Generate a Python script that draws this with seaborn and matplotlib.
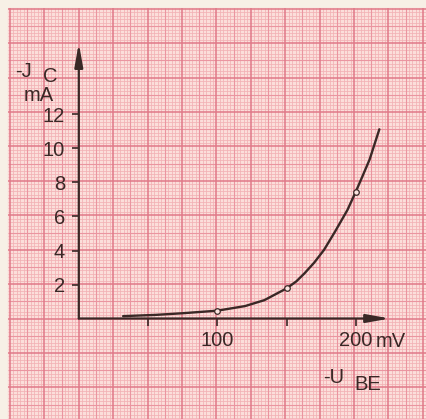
import matplotlib
matplotlib.use("Agg")
import matplotlib.pyplot as plt
from matplotlib.collections import LineCollection
import numpy as np
import pandas as pd
import seaborn as sns

# Transfer characteristic: -I_C versus -U_BE
ube_mv = [32, 55, 75, 100, 120, 134, 150, 157, 163, 170, 177, 185, 194, 200, 205, 210, 217]
ic_ma = [0.14, 0.21, 0.31, 0.46, 0.73, 1.08, 1.77, 2.18, 2.66, 3.29, 4.03, 5.11, 6.39, 7.46, 8.40, 9.36, 11.13]

# measured points marked with small circles
meas_ube = [100, 150, 200]
meas_ic = [0.46, 1.77, 7.46]

xticks = [50, 100, 150, 200]
xticklabels = ["", "100", "", "200"]
yticks = [2, 4, 6, 8, 10, 12]
yticklabels = ["2", "4", "6", "8", "10", "12"]

sns.set_theme(style="white")
plt.rcParams["font.family"] = ["Liberation Sans", "DejaVu Sans"]

INK = "#3a2826"
FS = 14.5
W, H = 427, 419
fig = plt.figure(figsize=(W / 100, H / 100), dpi=100)
fig.patch.set_facecolor("#f7f0e6")

# graph paper drawn in pixel space
bg = fig.add_axes([0, 0, 1, 1])
bg.set_xlim(0, W)
bg.set_ylim(H, 0)
bg.axis("off")
px0, py0 = 8, 8
bg.add_patch(plt.Rectangle((px0, py0), W - px0, H - py0, color="#fbdeda", zorder=0))

ox, oy = 78.8, 318.5   # origin of the chart in pixels
step = 34.4 / 10
def grid_positions(origin, lo, hi):
    k0 = int(np.ceil((lo - origin) / step))
    k1 = int(np.floor((hi - origin) / step))
    return [(k, origin + k * step) for k in range(k0, k1 + 1)]

minor, medium, bold = [], [], []
for k, x in grid_positions(ox, px0, W):
    seg = [(x, py0), (x, H)]
    (bold if k % 10 == 0 else medium if k % 5 == 0 else minor).append(seg)
for k, y in grid_positions(oy, py0, H):
    seg = [(px0, y), (W, y)]
    (bold if k % 10 == 0 else medium if k % 5 == 0 else minor).append(seg)
bg.add_collection(LineCollection(minor, colors="#f2b1b5", linewidths=0.55, zorder=1))
bg.add_collection(LineCollection(medium, colors="#ea95a0", linewidths=0.8, zorder=2))
bg.add_collection(LineCollection(bold, colors="#e07988", linewidths=1.1, zorder=3))

# chart axes: 1 mV = 1.385 px, 1 mA = 17.0 px
PX_MV, PX_MA = 1.385, 17.0
right_px, top_px = 395, 40
ax = fig.add_axes([ox / W, (H - oy) / H, (right_px - ox) / W, (oy - top_px) / H])
ax.set_xlim(0, (right_px - ox) / PX_MV)
ax.set_ylim(0, (oy - top_px) / PX_MA)
ax.patch.set_alpha(0)
for s in ax.spines.values():
    s.set_visible(False)

arrow = dict(arrowstyle="-|>,head_length=1.4,head_width=0.25", color=INK,
             lw=1.6, mutation_scale=10, shrinkA=0, shrinkB=0)
ax.annotate("", xy=(224.7, 0), xytext=(0, 0), arrowprops=arrow, annotation_clip=False)
ax.annotate("", xy=(0, 16.2), xytext=(0, 0), arrowprops=arrow, annotation_clip=False)

df = pd.DataFrame({"ube": ube_mv, "ic": ic_ma})
sns.lineplot(data=df, x="ube", y="ic", ax=ax, color=INK, lw=1.7, sort=True)
pts = pd.DataFrame({"ube": meas_ube, "ic": meas_ic})
sns.scatterplot(data=pts, x="ube", y="ic", ax=ax, s=16, marker="o",
                facecolor="#fbe3df", edgecolor=INK, linewidth=0.9, zorder=5)

ax.set_xticks(xticks)
ax.set_xticklabels(xticklabels)
ax.set_yticks(yticks)
ax.set_yticklabels(yticklabels)
ax.tick_params(axis="y", direction="out", length=5, width=1.2, color=INK,
               labelcolor=INK, labelsize=FS, pad=5, left=True)
ax.tick_params(axis="x", direction="out", length=5, width=1.2, color=INK,
               labelcolor=INK, labelsize=FS, pad=4, bottom=True)
ax.set_xlabel("")
ax.set_ylabel("")

txt = dict(color=INK, fontsize=FS, va="baseline", ha="left")
bg.text(15, 77, "-J", **txt)
bg.text(43, 81.5, "C", **txt)
bg.text(24, 100.5, "mA", **txt)
bg.text(376, 347, "mV", **txt)
bg.text(323, 383, "-U", **txt)
bg.text(354, 390, "BE", **txt)

fig.savefig("out.png", dpi=100, facecolor=fig.get_facecolor())
